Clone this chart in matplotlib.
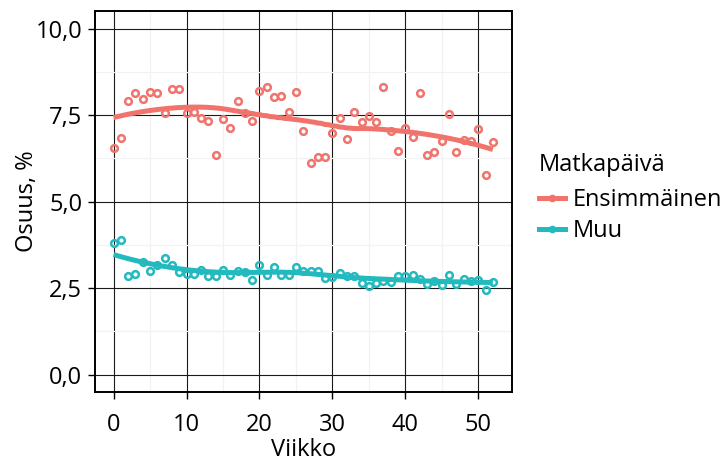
import numpy as np
import matplotlib
matplotlib.use("Agg")
import matplotlib.pyplot as plt
from matplotlib.lines import Line2D
from matplotlib.ticker import FixedLocator, FuncFormatter

plt.rcParams['font.family'] = ['Open Sans', 'DejaVu Sans']

weeks = list(range(53))
ensimmainen = [6.55, 6.84, 7.91, 8.13, 7.96, 8.17, 8.13, 7.57, 8.26, 8.26,
               7.57, 7.59, 7.42, 7.34, 6.35, 7.38, 7.13, 7.91, 7.55, 7.34,
               8.21, 8.31, 8.01, 8.05, 7.59, 8.17, 7.05, 6.13, 6.30, 6.30,
               6.97, 7.42, 6.80, 7.59, 7.30, 7.48, 7.30, 8.30, 7.04, 6.47,
               7.13, 6.87, 8.13, 6.34, 6.43, 6.75, 7.52, 6.43, 6.77, 6.74,
               7.10, 5.76, 6.72]
muu = [3.81, 3.89, 2.86, 2.91, 3.25, 2.99, 3.17, 3.36, 3.18, 2.97,
       2.91, 2.92, 3.03, 2.84, 2.84, 3.03, 2.88, 2.99, 2.96, 2.73,
       3.17, 2.88, 3.12, 2.88, 2.88, 3.12, 3.00, 3.00, 3.00, 2.78,
       2.81, 2.93, 2.84, 2.84, 2.64, 2.57, 2.64, 2.71, 2.68, 2.84,
       2.86, 2.89, 2.76, 2.62, 2.71, 2.60, 2.88, 2.62, 2.76, 2.71,
       2.74, 2.44, 2.68]
series_names = ["Ensimmäinen", "Muu"]
colors = ["#F0736C", "#22B9BF"]
x_ticks = [0, 10, 20, 30, 40, 50]
y_ticks = [0.0, 2.5, 5.0, 7.5, 10.0]


def loess(x, y, xs, span=0.75, degree=2):
    x = np.asarray(x, float)
    y = np.asarray(y, float)
    n = len(x)
    q = int(np.floor(n * span))
    out = []
    for x0 in xs:
        d = np.abs(x - x0)
        h = np.sort(d)[q - 1]
        w = np.clip(1 - (d / h) ** 3, 0, None) ** 3
        X = np.vander(x - x0, degree + 1, increasing=True)
        W = np.sqrt(w)
        beta, *_ = np.linalg.lstsq(X * W[:, None], y * W, rcond=None)
        out.append(beta[0])
    return np.array(out)


fig = plt.figure(figsize=(7.28, 4.61), dpi=100)
ax = fig.add_axes([0.130, 0.1497, 0.573, 0.8258])

xs = np.linspace(0, 52, 200)
handles = []
for name, vals, c in zip(series_names, [ensimmainen, muu], colors):
    ax.plot(weeks, vals, linestyle='none', marker='o', markersize=4.8,
            markerfacecolor='none', markeredgecolor=c, markeredgewidth=1.8, zorder=3)
    ax.plot(xs, loess(weeks, vals, xs), color=c, lw=3.6, solid_capstyle='butt', zorder=4)
    handles.append(Line2D([], [], color=c, lw=3.6, marker='o', markersize=4,
                          markerfacecolor='none', markeredgecolor=c, markeredgewidth=1.5))

ax.set_xlim(-2.6, 54.6)
ax.set_ylim(-0.5, 10.5)
ax.xaxis.set_major_locator(FixedLocator(x_ticks))
ax.yaxis.set_major_locator(FixedLocator(y_ticks))
ax.xaxis.set_minor_locator(FixedLocator([5, 15, 25, 35, 45]))
ax.yaxis.set_minor_locator(FixedLocator([1.25, 3.75, 6.25, 8.75]))
ax.yaxis.set_major_formatter(FuncFormatter(lambda v, p: f"{v:.1f}".replace('.', ',')))
ax.grid(which='major', color='#1a1a1a', lw=0.8, zorder=1)
ax.grid(which='minor', color='#f2f2f2', lw=0.9, zorder=0)
ax.tick_params(which='major', length=5, width=1.0, color='black', labelsize=17,
               labelcolor='black')
ax.tick_params(axis='x', pad=10)
ax.tick_params(axis='y', pad=4)
ax.tick_params(which='minor', length=0)
for s in ax.spines.values():
    s.set_color('black')
    s.set_linewidth(1.4)
ax.set_axisbelow(True)
ax.set_xlabel("Viikko", fontsize=17, va='center')
ax.xaxis.set_label_coords(0.5, -0.153)
ax.set_ylabel("Osuus, %", fontsize=17, va='center')
ax.yaxis.set_label_coords(-0.162, 0.5)

leg = fig.legend(handles, series_names, title="Matkapäivä", loc='upper left',
                 bbox_to_anchor=(0.727, 0.688), frameon=False, fontsize=17,
                 title_fontsize=17, handlelength=1.1, handletextpad=0.35,
                 labelspacing=0.3, borderaxespad=0)
leg._legend_box.align = "left"
leg._legend_box.sep = 8

fig.savefig("out.png", dpi=100)
